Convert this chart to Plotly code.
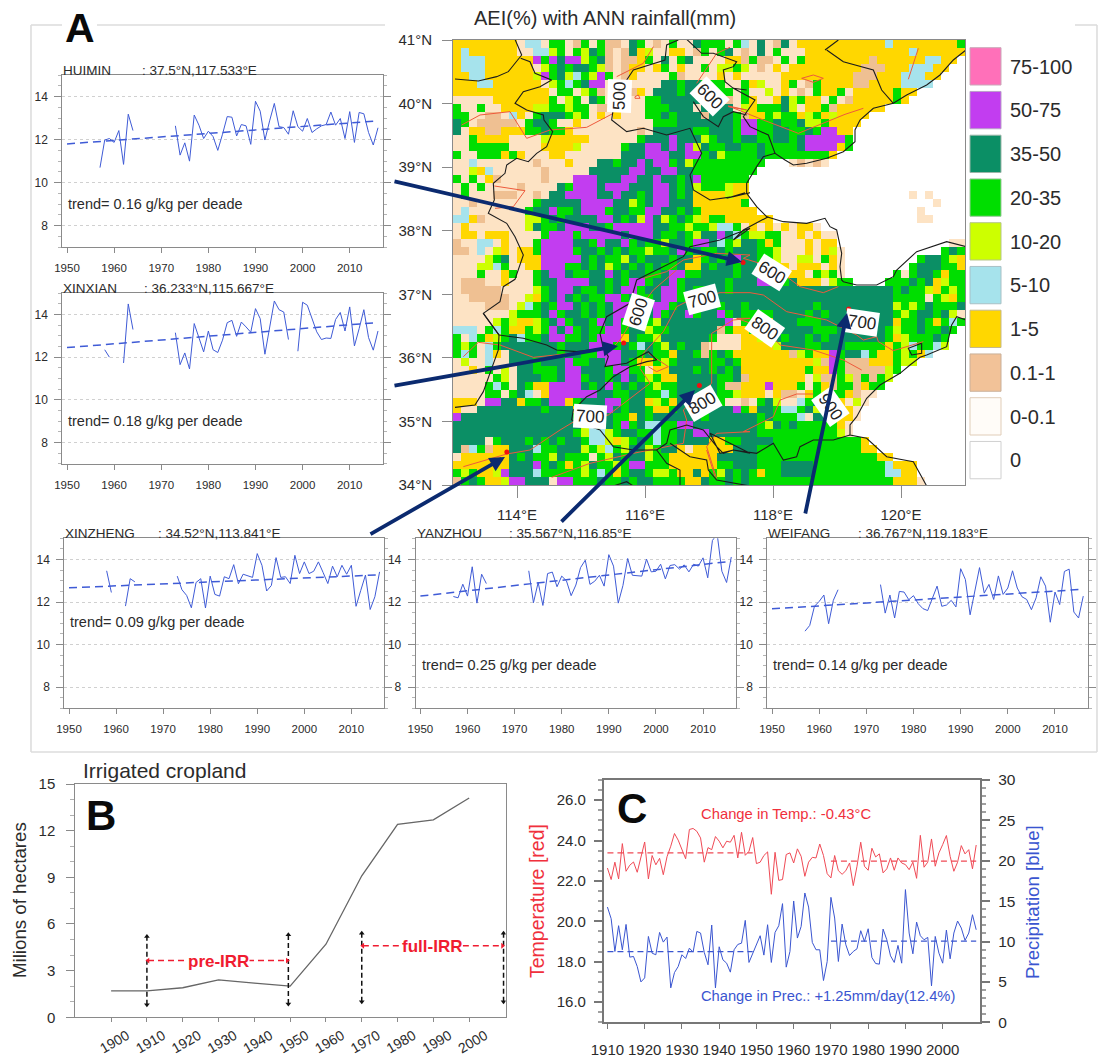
import plotly.graph_objects as go

W, H = 1107, 1059
FONT = "Liberation Sans"
INK = "#2b2b2b"
AXIS = "#8a8a8a"
BLUE = "#3f5bd6"
RED = "#ef3a48"
NAVY = "#0b2a6f"

# ---------- station humidity series, 1957-2016 ----------
YEARS = list(range(1957, 2017))
N = None
HUIMIN = [10.7,11.98,12.05,11.87,12.42,10.85,13.18,12.42,N,N,N,N,N,N,N,N,12.64,11.28,11.85,11.0,13.14,12.67,12.05,12.39,12.14,11.5,12.25,13.07,13.04,12.17,12.7,12.64,11.78,13.78,13.32,11.98,12.87,13.68,12.6,12.56,12.25,13.34,12.6,12.39,12.98,12.33,12.5,12.64,12.7,13.28,12.67,12.98,12.05,13.3,11.87,13.26,13.2,12.33,11.75,12.55]
XINXIAN = [N,12.35,12.0,N,N,11.73,14.5,13.3,N,N,N,N,N,N,N,N,13.15,11.65,12.2,11.45,13.58,12.95,12.25,13.23,12.35,12.22,12.8,13.62,13.73,12.98,13.65,13.42,13.17,14.28,13.81,12.14,13.42,14.64,14.23,14.12,12.83,N,12.28,14.58,14.44,13.81,13.19,12.83,12.9,12.88,13.77,14.1,13.23,14.36,12.53,13.34,14.23,12.92,12.33,13.23]
XINZHENG = [N,13.47,12.45,N,N,11.81,13.1,12.95,N,N,N,N,N,N,N,N,13.22,12.58,12.31,11.73,12.92,13.1,11.72,13.22,12.36,12.28,13.19,13.1,13.76,12.86,13.31,13.23,13.16,14.28,13.73,12.52,12.78,14.09,13.16,13.19,12.87,14.2,13.34,13.89,13.34,13.45,13.89,13.39,12.87,13.69,13.19,13.73,13.31,13.73,11.8,12.55,13.27,11.65,12.25,13.42]
YANZHOU = [12.26,12.2,12.84,12.28,13.66,11.95,13.31,12.87,N,N,N,N,N,N,N,N,13.47,11.97,12.92,11.84,13.34,13.41,12.72,13.22,13.0,12.3,12.8,13.62,13.97,12.83,12.98,13.26,12.75,14.23,13.69,11.95,12.78,14.05,13.26,13.23,13.22,14.02,13.42,13.45,13.78,13.09,13.72,13.76,13.55,13.75,13.42,13.78,13.69,14.08,13.14,14.9,15.2,13.45,12.92,14.12]
WEIFANG = [10.63,10.9,11.8,12.03,12.33,10.98,12.08,12.58,N,N,N,N,N,N,N,N,12.82,11.48,12.33,11.25,12.5,12.47,12.11,12.3,11.92,11.69,11.6,12.2,12.75,11.8,11.86,12.08,11.77,13.57,13.06,11.4,12.47,13.62,12.42,12.83,12.12,13.23,12.36,12.66,13.47,12.66,12.25,12.12,11.64,12.2,13.19,12.75,11.05,12.47,11.88,13.44,13.55,11.53,11.25,12.28]
TREND_YEARS = [1950, 2016]
TRENDS = {"HUIMIN": [11.8, 12.87], "XINXIAN": [12.45, 13.63], "XINZHENG": [12.67, 13.28], "YANZHOU": [12.28, 13.92], "WEIFANG": [11.68, 12.6]}
STATION_LAT = [37.5, 36.233, 34.52, 35.567, 36.767]
STATION_LON = [117.533, 115.667, 113.841, 116.85, 119.183]

# ---------- panel B ----------
IRR_YEARS = [1900, 1910, 1920, 1930, 1940, 1950, 1960, 1970, 1980, 1990, 2000]
IRR_VALUES = [1.7, 1.7, 1.9, 2.4, 2.2, 2.0, 4.7, 9.1, 12.4, 12.7, 14.1]

# ---------- panel C ----------
C_YEARS = list(range(1910, 2010))
TEMP = [22.64,22.07,22.93,22.1,23.85,22.48,22.78,22.94,22.43,23.2,23.93,22.1,23.26,22.8,23.12,22.31,23.2,23.72,24.35,24.02,23.55,23.1,24.55,24.6,24.46,24.13,22.93,23.65,23.55,24.2,23.97,23.64,23.97,23.92,24.26,23.14,24.41,23.27,23.47,24.15,22.86,22.93,23.26,23.44,21.34,23.42,22.03,22.07,23.31,23.39,22.89,23.59,23.22,22.23,22.93,23.17,23.14,23.83,23.26,22.36,22.15,23.26,22.51,22.33,22.51,22.89,21.77,22.73,23.92,22.73,22.53,23.62,23.19,23.34,22.4,22.6,23.14,22.53,23.14,22.89,22.81,22.56,22.93,22.13,24.26,22.68,22.93,24.08,22.73,23.39,23.8,24.25,23.22,22.48,22.93,23.75,23.34,23.55,22.6,23.78]
PREC = [14.27,12.83,8.77,11.96,8.98,12.12,8.07,8.15,6.91,5.0,5.5,10.63,8.56,8.36,11.13,9.93,10.55,4.26,6.16,6.91,8.36,7.9,9.18,8.69,11.25,11.05,8.65,7.12,12.04,4.26,9.35,7.74,7.32,6.21,8.98,9.64,9.8,12.62,7.41,8.56,9.6,10.72,8.32,12.08,7.41,11.13,11.96,14.69,6.83,8.77,15.02,10.43,11.87,16.01,14.27,9.89,8.98,8.98,5.17,7.53,15.47,12.91,7.53,12.16,9.6,8.27,8.77,9.1,11.34,10.01,11.58,8.03,7.28,7.2,11.54,10.22,8.23,7.41,9.52,7.32,16.43,11.05,8.48,12.41,10.72,10.22,10.51,4.51,10.63,8.56,7.32,11.42,7.86,11.05,12.54,11.67,10.14,11.05,13.32,11.46]
MEAN_PRE_YEARS = [1910, 1949]
MEAN_FULL_YEARS = [1970, 2009]
TEMP_MEANS = [23.39, 22.98]
PREC_MEANS = [8.75, 10.05]

# ---------- map: AEI class per 0.125 degree cell, north to south, west to east ----------
# . sea  p 0-0.1  t 0.1-1  y 1-5  c 5-10  l 10-20  g 20-35  d 35-50  m 50-75  h 75-100
MAP_ROWS = [
"yyyyyyyy pccpggpt gpgttpdg ptpgppdg ggpgcpdp tdpyyyyy yyyyyycy yyyyyyyg",
"ycyyyyyy ppcclgpg ldgtptdy lppyyptg pgdptpdp gpppyyyy yyyyyyyy ycyyyyyy",
"ycccyyyy yymgmdmm lgdtptty gpdpgdpp ppyytgtt pgpgyyyy yyyytyyy yyyccyy.",
"ycccyyyy yyplgdgd dgltptyy pygpyppg pllglptp ypyyyyyy yyytttyy ycccyy..",
"yyccyyyy yylmgdlc glmgptyp pppgtppp pypypppp pyyyyyyy yytttyyy cccyy...",
"yyyccyyy yyyplgcg dmmplppp ppddgddg ggppgylp pygptgyy yyttyyyy cccc....",
"yyyyyyyy yyyypggp lgtpppty pdddgddd lggpgppl pyptpgyy gpyyyyyg yy......",
"pppppyyy yyyygplg pdgptppp ggdddddg ddtpgypp ydlgyypg ptyyyyyg y.......",
"gppgppyy yyllgglg gpttpppp gggdddpd dddplygg gdlpyygt yyyyyy.. ........",
"ggppttpc ypgdddgl gpypyppp ggdgdddt dddgtyyg lggylgyl yyyy.... ........",
"dgpttttt pgddgppy pppppppp pgggdddd dddgmmgg dggdllgy yyy..... ........",
"dpyyttyy yggdggyp pppppppt pdddddgg dddgmmgg ddggdgmm yy...... ........",
"ppgyyyyp ppplyyyy yppppppg dddmdddl gddgddgg ddgdmmmm mg...... ........",
"ppgggggp pppyyyyl pppppgdd mmdmdmld ggddggdg gggdmmmm yg...... ........",
"gppgggyg ypppyypp pppppddd mmmddmmg dlggggdg gggggggy ........ ........",
"ppcppppp pptpppyp ppddgddm dmmgdlgg ggggggg. ..ptptp. ........ ........",
"pplycppp ppptpppp pdddddmm ddmmddgg gggggg.. ........ ........ ........",
"gpgpytpp ppptpppm mmdddmmd dmddgdmg ggggg... ........ ........ ........",
"pgpgpppp tppppdgm mmdmmmdd dmmdgdlg gglyy... ........ ........ ........",
"pgpppttt pptpddmm mmddmddg dmmdgdyy yylyy... ........ ........ .p.p....",
"pptppppp ppgddddd mmmmddlg dmmdddyy yyyyg... ........ ........ ....p...",
"pcpppppp pgddmggd mmmgddgg mmddgdgy yyyyyy.. ........ ........ ..p.....",
"ccytpppp pllgdgdd ddmmdgdl mdlgdgly ggyyyyyy ........ ........ ..pp....",
"pypppppp pldggdmm mddgmmmm mddgglgg lccgpypy pypyyp.. ........ ........",
"pyypyyyp pppgmmmg mmmmmdmm mdggdgld dmdcgllg gppypypp ........ ........",
"tppccpyp ppgmmmmd dgmddmgd gglddgmm dcglddgy gpppypyy ........ ......pp",
"ttpcplyp yygmmmmg ddgdgdgg lggdmgdg gdgdddgg lpppypyl p....... .....gdg",
"pppplgdp yyymmmmm dgdggldg dddgddyg dgdmddgg lppllpgy p....... ..gddgly",
"pppllcgp pyymmmgg dgdlgdgd gdggdyyd gddgddcy yypyyypy p....... .gdddggy",
"pppgppyg ppgdmmdg gddmdgdd ggdmmggd dddgdddy gyyypglg p......g pgddgygg",
"ptttppyp ppgddmmm mddgdgmm gddmgddd ddgdddmm dgdyyypl gg....gg gdgdylgg",
"ptttttpp pplgdmmd ggdgdmmg ddmmgdgg ddgddddd dddddddd dddddddg dgglyglg",
"pptttttp plygdmdg dggmmgdg gdmmgddg dddddddd dddddddd dddddddg gggpglyg",
"pppptttp lcgdgmmd gdgdmmgg dmmgddmg dgddgddd dddddgdd dddddddl glgdgggd",
"pppppppl gggdmgdd gdgdmmlg dmgddmgd dmgdgggg ddddgdgd dddddddg lgddgdlp",
"ppppplgl yylgdmgd dgmdmgdd gldddddd ddmpgggy dddgggdd dddddddy ggdgygcg",
"cccpgcgy yglgmdmg dggmmgdd lggddddd dtgyyggd dddddggg ddddddgl ggdggdg.",
"gpcgylgd cggdmmgg dgmmmydg gldddddd gpppyyll dgddgdgd ddddddgy lgggdg..",
"glgpcgdd dddddgdd dmmmgdgc dgldgddt ppppyyyy ldddggdd dgggggyg lcggcl..",
"gcgpcypd dddddgdd ggmmmddg dggyddgt gdgyyyyy yytlgyym gddcgyyg lgyc....",
"plppcppd ddgdddmg gddmmdgy yglgdddd ggdgyyyy yyyyyltm gtttyyyg ll......",
"ppypgplp ddgggdmm dddgmmgg pyydddgd gdgdyyyy yyyygyym gtttttlg ........",
"pppppglp dddggdmm gddgdmdg lgyydddd dggdtyyy yyyypltt gltgtgl. ........",
"ppppgcgp dgyymmmm dgdmgdgd glggdddd dgttyyym yyygpgyt ggtygg.. ........",
"ppppggpg dcpymmmm mmddggdd ggcgdddd dgglyyyp yttpyglg gytpp... ........",
"yyypmmdd yggdmmyg dddmmgdd ylgyddmd dgpptpgd lppcgdgy yplp.... ........",
"yppddddd dddgdddy gdmmdgdd gyygdddd dddmgydd gccgdlpy pyp..... ........",
"mddddddd dddddddg cyydggyd gddddddg ddddddgd gggcpddg yyp..... ........",
"dddddddd dddddddd lcgdgmgd ccggmmdd ddddddgl dgdggggg yp...... ........",
"dddddddd dddddddg lcclgddg gcggddmm ddddddgg gggggggg lp...... ........",
"ddddpgdd dgdgdgdd gcclylgd gcggdddd yyggdddd gggggggg gggy.... ........",
"dtcgtyyd ddcggddd lglcgldd lgddypyy yyydddgg gggggggg gggyy... ........",
"pyyyyyyd gdggldgg gpgldgdd lggyyyyy ydddddgg gggggggg gggggyy. ........",
"yyyyyyyd ddmgdgyg ldgglgmm gggyyyyy yggdddgg gddddggg ggggggcy yy......",
"glgyylmd ddcggggg lgcgygdd gllgyydy gldgdgyg gddddggg ggggggcc yy......",
"tgdgyylm mdddpmmg ggdggdgd dggggyyd ggdgdggg gggggggg gggggggy yyp.....",
]
CLASS_CODES = "ptycl" + "gdmh"
CLASS_COLORS = ["#FDE3C4", "#EFC092", "#FFD700", "#A6E3EC", "#CDFF00", "#00DE00", "#0B8F65", "#C23DF0", "#FF70B9"]
LEGEND_LABELS = ["75-100", "50-75", "35-50", "20-35", "10-20", "5-10", "1-5", "0.1-1", "0-0.1", "0"]
LEGEND_COLORS = ["#FF70B9", "#C23DF0", "#0B8F65", "#00DE00", "#CDFF00", "#A6E3EC", "#FFD700", "#F2C298", "#FFFCF8", "#FFFFFF"]
LEGEND_EDGES = ["#c9a8b8", "#b9a0c8", "#9ab5a8", "#9ac59a", "#b5c58a", "#a8c0c5", "#c5b98a", "#c9b09a", "#e0cdb8", "#d0d0d0"]
LON_TICKS = [114, 116, 118, 120]
LAT_TICKS = [34, 35, 36, 37, 38, 39, 40, 41]

# Polylines in (lon, lat)
def ll(points):
    return [113 + (x - 453) / 64 for x, y in points], [34 + (485 - y) / 63.57 for x, y in points]

def z6(pts):  # crop at (400,20) scale 3
    return [(400 + x / 3, 20 + y / 3) for x, y in pts]
def z7(pts):
    return [(700 + x / 3, 20 + y / 3) for x, y in pts]
def z8(pts):
    return [(400 + x / 3, 270 + y / 3) for x, y in pts]
def z9(pts):
    return [(700 + x / 3, 270 + y / 3) for x, y in pts]

BOUNDARIES = [
    z6([(165,177),(235,183),(290,170),(325,155),(365,105),(345,58)]),
    z6([(362,115),(390,125),(405,160),(455,180),(420,200),(370,215),(345,250),(380,270),(430,285),(432,300),(458,335),(440,380),(410,400),(385,425),(350,415),(320,435),(315,460),(280,490),(283,540),(265,580),(320,610),(345,650),(370,705),(345,778)])
    + z8([(310,50),(300,95),(250,130),(297,195),(295,240),(270,310),(250,365),(225,405),(165,412)]),
    z6([(835,60),(800,75),(795,120),(745,135),(700,150),(680,180),(645,230),(635,300),(680,335),(730,325),(800,345),(870,325),(905,400),(870,465),(880,510),(930,540),(1000,530),(1050,518)])
    + z7([(80,535),(135,518)]),
    z6([(860,58),(905,100),(940,100),(1010,125),(1000,140),(970,150),(975,185),(1000,205),(1040,210)]) + z7([(100,205),(165,240),(130,290),(150,320),(205,345),(225,400)]),
    z6([(880,245),(910,290),(955,320),(970,290),(1000,275),(1040,285)]),
    z7([(380,90),(430,125),(520,150),(545,210),(580,250)]),
    z7([(375,90),(415,60)]),
    z8([(250,130),(297,195),(370,205),(440,225),(470,240),(530,245),(610,235),(600,190),(620,140),(690,100),(710,30),(770,0)])
    + z6([(760,755),(850,710),(870,680),(960,660),(1010,640),(1050,625)]) + z7([(100,660),(130,630),(205,590)]),
    z8([(610,235),(625,260),(615,290),(680,280),(745,245),(770,270),(740,275),(690,290),(640,320),(600,360),(560,380),(520,420),(515,450),(600,480),(640,530),(700,540),(770,540),(800,520),(810,480),(860,465),(910,480),(950,530),(970,550),(1000,540),(1050,550)])
    + z9([(30,490),(60,550),(100,540),(170,550),(220,520),(250,570),(290,560),(300,530),(340,510),(400,510),(450,495)]),
    z8([(770,540),(800,580),(840,600),(840,648)]),
    z8([(810,520),(870,560),(920,570),(925,600),(950,630),(1050,648)]) + z9([(140,648)]),
    z8([(640,648),(680,635),(700,648)]),
    z7([(798,90),(760,120),(720,165),(680,195),(620,225),(580,250),(520,265),(480,300),(465,330),(465,365),(430,395),(380,415),(320,430),(280,435),(255,420),(225,400),(190,410),(170,440),(140,490),(140,520),(170,560),(200,590),(250,605),(320,610),(375,595),(390,620),(410,630),(420,680),(425,700),(420,740),(425,780)])
    + z9([(430,35),(470,45),(530,45),(580,20),(590,0)]) + z7([(650,695),(740,665),(798,680)]),
    z9([(798,150),(770,140),(755,165),(740,230),(680,255),(660,262),(630,285),(600,310),(540,345),(500,385),(470,440),(450,465),(450,495),(500,505),(560,560),(640,575),(680,648)]),
    z9([(665,220),(625,235),(635,255),(665,250),(665,220)]),
]
CONTOURS = [
    z6([(185,315),(240,285),(330,275),(380,355),(450,330),(560,322),(640,280)]),
    z6([(650,170),(700,145),(730,130),(760,80)]),
    z6([(705,230),(715,225),(720,235),(705,235),(705,230)]),
    z6([(890,190),(910,160),(950,100),(990,82)]),
    z6([(985,260),(1040,270)]) + z7([(85,258),(190,300),(295,340),(435,283),(490,265)]),
    z7([(305,175),(340,165),(370,175),(340,187),(305,175)]),
    z7([(625,178),(655,85)]),
    z6([(283,498),(375,512),(340,560),(285,565)]),
    z6([(730,775),(800,755),(850,720),(950,700),(1050,705)]) + z7([(130,715),(180,730)]) + z9([(260,20),(300,50),(370,68),(415,50)]),
    z8([(830,0),(760,60),(715,120),(660,210),(640,230),(560,245),(400,262),(340,240),(300,225),(235,217),(190,260)]),
    z8([(190,590),(320,552),(390,540),(480,480),(530,450),(625,435),(750,340),(720,295),(730,250),(790,185),(830,110),(860,95),(960,68),(1050,68)])
    + z9([(190,75),(260,125),(380,150),(440,180),(470,195),(490,210),(530,200),(535,215),(580,242),(670,215)]),
    z8([(745,250),(805,290),(770,305),(745,290)]),
    z8([(455,622),(570,580),(700,550),(850,520),(860,450),(850,420),(935,340),(935,190),(1000,150),(1050,145)])
    + z9([(110,145),(195,175),(240,225),(340,240),(430,270),(485,300)]),
    z8([(950,625),(920,530),(950,490),(1050,485)]) + z9([(130,485),(220,440),(240,390),(290,372),(340,372)]),
    z9([(20,540),(45,620)]),
]
# text, lon-px, lat-px, angle
CONTOUR_LABELS = [("500",619,96,-88),("600",710,96,45),("600",772,272,32),("600",638,312,-72),("700",702,299,-15),("700",862,322,8),("700",590,417,3),("800",765,328,35),("800",702,403,-30),("900",830,407,55)]

ARROWS = [(393,181,742,262),(393,386,618,346),(369,535,505,457),(560,523,695,390),(805,515,847,313)]


def px(x):
    return x / W
def py(y):
    return 1 - y / H


fig = go.Figure()
layout = dict(
    width=W, height=H, margin=dict(l=0, r=0, t=0, b=0, autoexpand=False), autosize=False,
    paper_bgcolor="white", plot_bgcolor="white", showlegend=False,
    font=dict(family=FONT, color=INK, size=12),
)
annotations, shapes = [], []


def text(x, y, s, size, color=INK, anchor="left", bold=False, angle=0, pad=0, **kw):
    if bold:
        s = "<b>" + s + "</b>"
    annotations.append(dict(x=px(x), y=py(y), xref="paper", yref="paper", text=s, showarrow=False, xanchor=anchor,
                            yanchor="middle", textangle=angle, font=dict(family=FONT, size=size, color=color), borderpad=pad, **kw))


# ----- Panel A frame -----
for x0, y0, x1, y1 in [(31, 25, 62, 25), (97, 25, 385, 25), (1075, 25, 1097, 25), (31, 25, 31, 752), (1097, 25, 1097, 752), (31, 752, 1097, 752)]:
    shapes.append(dict(type="line", xref="paper", yref="paper", x0=px(x0), x1=px(x1), y0=py(y0), y1=py(y1), line=dict(color="#dddddd", width=1.6), layer="below"))

# ----- Station panels -----
PANELS = [
    ("HUIMIN", HUIMIN, 62.3, 382.7, 75, 247.3, 141, ": 37.5°N,117.533°E", "trend= 0.16 g/kg per deade", 67, 204),
    ("XINXIAN", XINXIAN, 62.3, 382.7, 293.3, 463.7, 143, ": 36.233°N,115.667°E", "trend= 0.18 g/kg per deade", 67, 421),
    ("XINZHENG", XINZHENG, 64.3, 384.3, 538.3, 708.3, 157, ": 34.52°N,113.841°E", "trend= 0.09 g/kg per deade", 69, 622),
    ("YANZHOU", YANZHOU, 415.7, 736, 538.3, 708.3, 508, ": 35.567°N,116.85°E", "trend= 0.25 g/kg per deade", 421, 665),
    ("WEIFANG", WEIFANG, 767.3, 1088, 538.3, 708.3, 857, ": 36.767°N,119.183°E", "trend= 0.14 g/kg per deade", 772, 665),
]
for i, (name, vals, x0, x1, y0, y1, cx, coord, trend, tx, ty) in enumerate(PANELS, start=1):
    s = "" if i == 1 else str(i)
    layout["xaxis" + s] = dict(domain=[px(x0), px(x1)], range=[1949, 2017], anchor="y" + s, tickvals=list(range(1950, 2011, 10)),
                               ticks="outside", ticklen=5, tickcolor=AXIS, tickwidth=1, showline=True, linecolor=AXIS, linewidth=1,
                               mirror=True, showgrid=False, zeroline=False, tickfont=dict(size=11.5, color=INK), ticklabelstandoff=5)
    layout["yaxis" + s] = dict(domain=[py(y1), py(y0)], range=[7, 15], anchor="x" + s, tickvals=[8, 10, 12, 14], ticks="outside", ticklen=7,
                               tickcolor=AXIS, tickwidth=1, showline=True, linecolor=AXIS, linewidth=1, mirror="ticks", showgrid=True,
                               griddash="dot", gridcolor="#d0d0d0", gridwidth=1, zeroline=False, tickfont=dict(size=12, color=INK), ticklabelstandoff=4,
                               minor=dict(dtick=0.5, ticks="outside", ticklen=3, tickcolor="#b5b5b5", showgrid=False))
    fig.add_trace(go.Scatter(x=YEARS, y=vals, mode="lines", line=dict(color=BLUE, width=1), connectgaps=False, xaxis="x" + s, yaxis="y" + s))
    fig.add_trace(go.Scatter(x=TREND_YEARS, y=TRENDS[name], mode="lines", line=dict(color=BLUE, width=1.5, dash="8px,5px"), xaxis="x" + s, yaxis="y" + s))
    text(x0, y0 - 5, name, 13.5)
    text(cx, y0 - 5, coord, 13.5)
    text(tx, ty, trend, 14.5)

# ----- Map -----
code_index = {c: k for k, c in enumerate(CLASS_CODES)}
cells = []
for row in MAP_ROWS:
    r = row.replace(" ", "").ljust(64, ".")[:64]
    cells.append([code_index.get(c) for c in r])
nc = len(CLASS_COLORS)
scale = []
for k, col in enumerate(CLASS_COLORS):
    scale += [[k / nc, col], [(k + 1) / nc, col]]
fig.add_trace(go.Heatmap(z=cells, x0=113 + 0.0625, dx=0.125, y0=41 - 0.0625, dy=-0.125, zmin=-0.5, zmax=nc - 0.5, colorscale=scale,
                         showscale=False, xaxis="x6", yaxis="y6", hoverongaps=False))
for path in CONTOURS:
    lo, la = ll(path)
    fig.add_trace(go.Scatter(x=lo, y=la, mode="lines", line=dict(color="#ee5a3c", width=1), xaxis="x6", yaxis="y6"))
for path in BOUNDARIES:
    lo, la = ll(path)
    fig.add_trace(go.Scatter(x=lo, y=la, mode="lines", line=dict(color="#1c1c1c", width=1.1), xaxis="x6", yaxis="y6"))
fig.add_trace(go.Scatter(x=STATION_LON, y=STATION_LAT, mode="markers", marker=dict(color="#f01010", size=5), xaxis="x6", yaxis="y6"))
layout["xaxis6"] = dict(domain=[px(453), px(965)], range=[113, 121], anchor="y6", tickvals=LON_TICKS, ticktext=[f"{v}°E" for v in LON_TICKS],
                        ticks="outside", ticklen=12, tickcolor=AXIS, showline=True, linecolor=AXIS, mirror=True, showgrid=False, zeroline=False,
                        tickfont=dict(size=15, color=INK), ticklabelstandoff=4)
layout["yaxis6"] = dict(domain=[py(485), py(40)], range=[34, 41], anchor="x6", tickvals=LAT_TICKS, ticktext=[f"{v}°N" for v in LAT_TICKS],
                        ticks="outside", ticklen=10, tickcolor=AXIS, showline=True, linecolor=AXIS, mirror=True, showgrid=False, zeroline=False,
                        tickfont=dict(size=15, color=INK), ticklabelstandoff=7)
text(473, 18, "AEI(%) with ANN rainfall(mm)", 20)
for t, x, y, a in CONTOUR_LABELS:
    text(x, y, t, 17, color="#222222", anchor="center", angle=a, bgcolor="white", pad=2)
for k, label in enumerate(LEGEND_LABELS):
    top = 47.7 + 43.75 * k
    shapes.append(dict(type="rect", xref="paper", yref="paper", x0=px(970), x1=px(1001), y0=py(top), y1=py(top + 37.3),
                       fillcolor=LEGEND_COLORS[k], line=dict(color=LEGEND_EDGES[k], width=1)))
    text(1009, top + 19, label, 20)
for x0, y0, x1, y1 in ARROWS:
    annotations.append(dict(x=px(x1), y=py(y1), ax=x0 - x1, ay=y0 - y1, xref="paper", yref="paper", axref="pixel", ayref="pixel", text="",
                            showarrow=True, arrowhead=2, arrowsize=0.8, arrowwidth=3.8, arrowcolor=NAVY))
text(64, 28, "A", 41, color="#0a0a0a", bold=True)

# ----- Panel B -----
fig.add_trace(go.Scatter(x=IRR_YEARS, y=IRR_VALUES, mode="lines", line=dict(color="#666666", width=1.3), xaxis="x7", yaxis="y7"))
for xv, yv in [([1910, 1910], [0.8, 5.2]), ([1949.5, 1949.5], [0.85, 5.3]), ([1970, 1970], [1.0, 5.4]), ([2009.6, 2009.6], [1.0, 5.4])]:
    fig.add_trace(go.Scatter(x=xv, y=yv, mode="lines+markers", line=dict(color="#111111", width=1.5, dash="5px,3px"),
                             marker=dict(color="#111111", size=5, symbol=["triangle-down", "triangle-up"]), xaxis="x7", yaxis="y7"))
for xv, yv in [([1910.3, 1949.2], [3.65, 3.65]), ([1970.3, 2009.3], [4.6, 4.6])]:
    fig.add_trace(go.Scatter(x=xv, y=yv, mode="lines+markers", line=dict(color="#f01c30", width=1.5, dash="6px,4px"),
                             marker=dict(color="#f01c30", size=5, symbol=["triangle-left", "triangle-right"]), xaxis="x7", yaxis="y7"))
layout["xaxis7"] = dict(domain=[px(75.3), px(505.7)], range=[1890, 2010.2], anchor="y7", tickvals=IRR_YEARS, ticks="outside", ticklen=4,
                        tickcolor=AXIS, showline=True, linecolor=AXIS, mirror=True, showgrid=False, zeroline=False, tickangle=-30,
                        tickfont=dict(size=14, color=INK), ticklabelstandoff=0, ticklabelshift=16)
layout["yaxis7"] = dict(domain=[py(1017.3), py(784)], range=[0, 15], anchor="x7", tickvals=[0, 3, 6, 9, 12, 15], ticks="outside", ticklen=8,
                        tickcolor=AXIS, showline=True, linecolor=AXIS, mirror=True, showgrid=False, zeroline=False, tickfont=dict(size=15, color=INK), ticklabelstandoff=8,
                        minor=dict(dtick=1, ticks="outside", ticklen=4, tickcolor="#b0b0b0", showgrid=False))
text(82, 770, "Irrigated cropland", 21)
text(19, 900, "Milions of hectares", 18.7, anchor="center", angle=-90)
text(85, 815, "B", 42, color="#0a0a0a", bold=True)
text(218, 961, "pre-IRR", 17, color="#f01c30", anchor="center", bold=True, bgcolor="white")
text(432, 946, "full-IRR", 17, color="#f01c30", anchor="center", bold=True, bgcolor="white")

# ----- Panel C -----
fig.add_trace(go.Scatter(x=C_YEARS, y=TEMP, mode="lines", line=dict(color="#ef4a55", width=1), xaxis="x8", yaxis="y8"))
fig.add_trace(go.Scatter(x=MEAN_PRE_YEARS, y=[TEMP_MEANS[0]] * 2, mode="lines", line=dict(color="#ef4a55", width=1.2, dash="6px,4px"), xaxis="x8", yaxis="y8"))
fig.add_trace(go.Scatter(x=MEAN_FULL_YEARS, y=[TEMP_MEANS[1]] * 2, mode="lines", line=dict(color="#ef4a55", width=1.2, dash="6px,4px"), xaxis="x8", yaxis="y8"))
fig.add_trace(go.Scatter(x=C_YEARS, y=PREC, mode="lines", line=dict(color="#3a55d0", width=1), xaxis="x8", yaxis="y9"))
fig.add_trace(go.Scatter(x=MEAN_PRE_YEARS, y=[PREC_MEANS[0]] * 2, mode="lines", line=dict(color="#3a55d0", width=1.2, dash="6px,4px"), xaxis="x8", yaxis="y9"))
fig.add_trace(go.Scatter(x=MEAN_FULL_YEARS, y=[PREC_MEANS[1]] * 2, mode="lines", line=dict(color="#3a55d0", width=1.2, dash="6px,4px"), xaxis="x8", yaxis="y9"))
CAX = "#777777"
layout["xaxis8"] = dict(domain=[px(603.7), px(980.3)], range=[1909, 2010.1], anchor="y8", tickvals=list(range(1910, 2001, 10)), ticks="outside", ticklen=5,
                        tickcolor=CAX, showline=True, linecolor=CAX, linewidth=1.5, mirror=True, showgrid=False, zeroline=False,
                        tickfont=dict(size=15, color=INK), ticklabelstandoff=8)
layout["yaxis8"] = dict(domain=[py(1022.3), py(780)], range=[15, 27], anchor="x8", tickvals=[16, 18, 20, 22, 24, 26], ticktext=["16.0", "18.0", "20.0", "22.0", "24.0", "26.0"],
                        ticks="outside", ticklen=8, tickwidth=1.5, tickcolor=CAX, showline=True, linecolor=CAX, linewidth=1.5, showgrid=False, zeroline=False,
                        tickfont=dict(size=15, color=INK), ticklabelstandoff=5, minor=dict(dtick=0.5, ticks="outside", ticklen=4, tickcolor="#a0a0a0", showgrid=False))
layout["yaxis9"] = dict(domain=[py(1022.3), py(780)], range=[0, 30], anchor="x8", overlaying="y8", side="right", tickvals=[0, 5, 10, 15, 20, 25, 30],
                        ticks="outside", ticklen=8, tickwidth=1.5, tickcolor=CAX, showline=True, linecolor=CAX, linewidth=1.5, showgrid=False, zeroline=False,
                        tickfont=dict(size=15.5, color=INK), ticklabelstandoff=5, minor=dict(dtick=1, ticks="outside", ticklen=4, tickcolor="#a0a0a0", showgrid=False))
text(537, 901, "Temperature [red]", 19.5, color="#f0303c", anchor="center", angle=-90)
text(1032, 902, "Precipitation [blue]", 18.7, color="#3a55d0", anchor="center", angle=-90)
text(700, 814, "Change in Temp.: -0.43°C", 14.8, color="#f0303c")
text(700, 996, "Change in Prec.: +1.25mm/day(12.4%)", 14.7, color="#3a55d0")
text(616, 808, "C", 42, color="#0a0a0a", bold=True)

layout["annotations"] = annotations
layout["shapes"] = shapes
fig.update_layout(**layout)
fig.write_html("out.html", config={"displayModeBar": False}, post_script="document.body.style.margin='0';document.documentElement.style.overflow='hidden';")
